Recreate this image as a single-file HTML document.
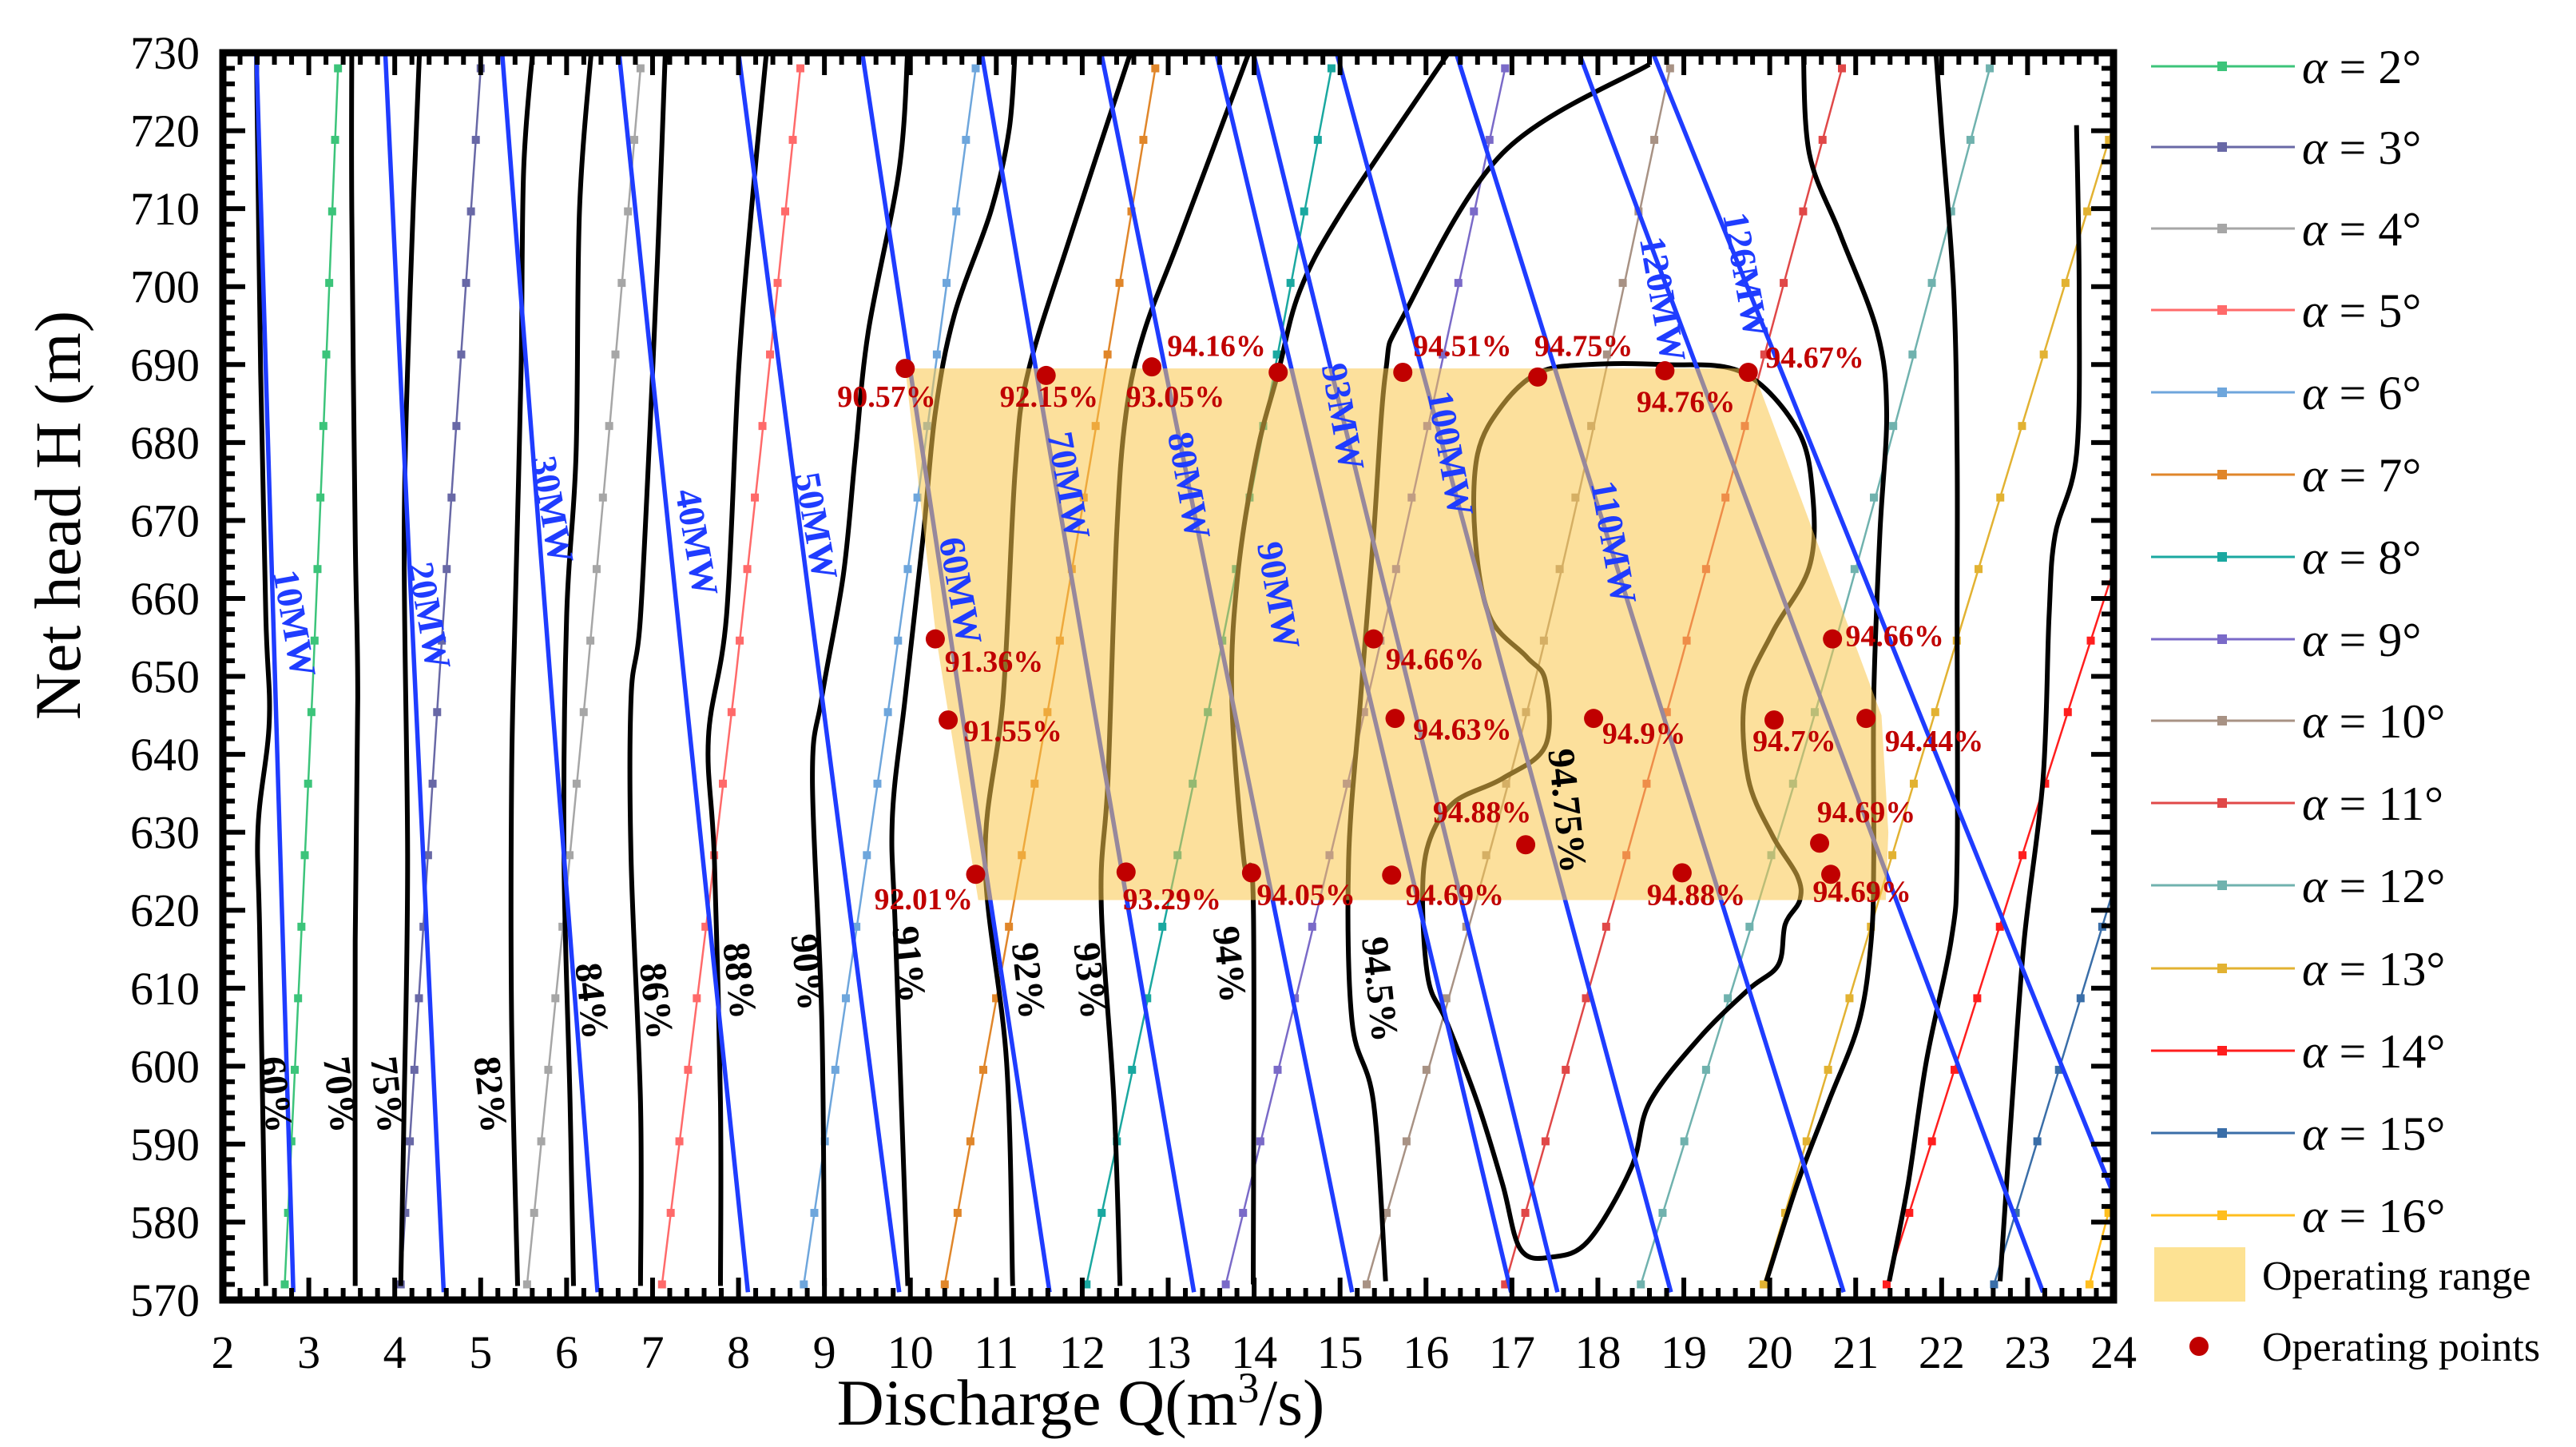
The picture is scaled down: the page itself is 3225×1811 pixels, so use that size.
<!DOCTYPE html>
<html><head><meta charset="utf-8"><style>
html,body{margin:0;padding:0;background:#fff;}
svg{display:block;}
text{font-family:"Liberation Serif",serif;}
</style></head><body>
<svg id="chart" width="3225" height="1811" viewBox="0 0 3225 1811" xmlns="http://www.w3.org/2000/svg">
<defs><clipPath id="plotClip"><rect x="279" y="66" width="2367" height="1561"/></clipPath></defs>
<g id="under" clip-path="url(#plotClip)"></g>
<g id="over"></g>
</svg>
<script>
// ---- axis data ----
const xTicks = [2,3,4,5,6,7,8,9,10,11,12,13,14,15,16,17,18,19,20,21,22,23,24];
const yTicks = [570,580,590,600,610,620,630,640,650,660,670,680,690,700,710,720,730];
// ---- guide vane opening (alpha) lines: Q at H = alphaH ----
const alphaH = [572, 650, 728];
const alphaNames = ['α = 2°','α = 3°','α = 4°','α = 5°','α = 6°','α = 7°','α = 8°','α = 9°','α = 10°','α = 11°','α = 12°','α = 13°','α = 14°','α = 15°','α = 16°'];
const alphaQ2 = [2.72,3.05,3.34];
const alphaQ3 = [4.07,4.52,5.0];
const alphaQ4 = [5.54,6.24,6.86];
const alphaQ5 = [7.11,7.97,8.72];
const alphaQ6 = [8.76,9.8,10.76];
const alphaQ7 = [10.4,11.67,12.85];
const alphaQ8 = [12.05,13.55,14.9];
const alphaQ9 = [13.67,15.38,16.92];
const alphaQ10 = [15.31,17.28,18.84];
const alphaQ11 = [16.92,18.92,20.84];
const alphaQ12 = [18.5,20.65,22.56];
const alphaQ13 = [19.93,22.05,24.2];
const alphaQ14 = [21.36,23.6,25.9];
const alphaQ15 = [22.61,24.75,26.9];
const alphaQ16 = [23.72,25.6,27.5];
const alphaSeries = [alphaQ2,alphaQ3,alphaQ4,alphaQ5,alphaQ6,alphaQ7,alphaQ8,alphaQ9,alphaQ10,alphaQ11,alphaQ12,alphaQ13,alphaQ14,alphaQ15,alphaQ16];
const alphaColors = ['#3cc47a','#6868a6','#a6a6a6','#ff6a6a','#6ea6dc','#e0862a','#1aa8a0','#7a6ac8','#a89284','#e04848','#70b2ae','#e2b232','#ff1e1e','#3a6ea8','#ffbe1e'];
// ---- power (output) lines: Q at H=730 and H=571 ----
const mwLabels = ['10MW','20MW','30MW','40MW','50MW','60MW','70MW','80MW','90MW','93MW','100MW','110MW','120MW','126MW'];
const mwTopQ = [2.39,3.89,5.25,6.61,8.0,9.44,10.83,12.22,13.56,13.99,14.96,16.35,17.78,18.64];
const mwBotQ = [2.82,4.57,6.36,8.11,9.87,11.62,13.3,15.14,16.99,17.53,18.85,20.86,23.18,24.46];
const mwLabelQ = [2.79,4.36,5.79,7.47,8.86,10.54,11.8,13.2,14.24,14.99,16.24,18.14,18.71,19.68];
const mwLabelH = [656.7,657.7,671.3,667.1,669.2,660.9,674.4,674.4,660.3,683.2,678.5,667.1,698.3,701.4];
// ---- efficiency contours [Q,H] ----
const c60 = [[2.39,730.6],[2.44,689],[2.5,657.7],[2.54,644.2],[2.41,630.7],[2.43,616.1],[2.5,571.8]];
const c70 = [[3.5,730.6],[3.5,709.8],[3.54,668.1],[3.57,647.3],[3.54,616.1],[3.54,571.8]];
const c75 = [[4.29,730.6],[4.18,699.4],[4.11,668.1],[4.15,626.5],[4.11,595.3],[4.07,571.8]];
const c82 = [[5.61,730.6],[5.5,715],[5.47,689],[5.4,657.7],[5.36,636.9],[5.36,605.7],[5.43,571.8]];
const c84 = [[6.29,730.6],[6.15,709.8],[6.11,678.5],[6.0,657.7],[5.97,626.5],[6.04,595.3],[6.08,571.8]];
const c86 = [[7.15,730.6],[7.08,709.8],[7.0,689],[6.86,657.7],[6.75,647.3],[6.75,626.5],[6.86,595.3],[6.86,571.8]];
const c88 = [[8.33,730.6],[8.15,709.8],[8.0,689],[7.86,657.7],[7.65,642.1],[7.72,626.5],[7.79,595.3],[7.79,571.8]];
const c90 = [[9.97,730.6],[9.87,715],[9.51,694.2],[9.36,678.5],[9.22,663],[8.97,647.3],[8.86,636.9],[8.97,605.7],[9.0,571.8]];
const c91 = [[11.22,730.6],[11.15,720.2],[10.94,709.8],[10.51,696.3],[10.29,683.8],[10.15,668.1],[9.94,647.3],[9.79,631.7],[9.83,616.1],[9.97,571.8]];
const c92 = [[12.58,730.6],[11.87,706.7],[11.37,689],[11.22,676.5],[11.08,647.3],[10.87,626.5],[11.12,600.5],[11.19,571.8]];
const c93 = [[13.96,730.6],[13.15,706.7],[12.72,694.2],[12.51,683.8],[12.4,668.1],[12.3,636.9],[12.22,621.3],[12.37,595.3],[12.44,571.8]];
const c94 = [[16.3,730.6],[15.03,709.8],[14.53,699.4],[14.28,689],[14.03,678.5],[13.81,663],[13.74,647.3],[13.88,626.5],[13.99,621.3],[13.99,572]];
const c945 = [[18.6,728.5],[16.89,717.1],[15.74,696.3],[15.53,689],[15.39,668.1],[15.24,647.3],[15.1,626.5],[15.14,605.7],[15.39,595.3],[15.53,572.4]];
const c9475 = [[17.32,689],[17.89,690],[18.75,690],[19.68,689],[20.32,681.7],[20.5,673.3],[20.46,664],[20.03,655.6],[19.71,647.3],[19.75,636.9],[20.03,629.6],[20.32,624.4],[20.35,621.3],[20.18,618.2],[20.1,613],[19.75,609.8],[19.18,603.6],[18.6,595.3],[18.39,587],[17.89,577.6],[17.46,575.5],[17.1,576.5],[16.89,584.9],[16.6,595.3],[16.24,605.7],[16.03,610.9],[15.96,621.3],[16.03,628.6],[16.32,633.8],[16.89,636.9],[17.39,641.1],[17.39,649.4],[17.17,652.5],[16.74,657.7],[16.57,668.1],[16.6,678.5],[16.89,684.8]];
const cR1 = [[20.39,730.6],[20.46,717.1],[20.82,706.7],[21.25,694.2],[21.36,683.8],[21.28,668.1],[21.21,647.3],[21.21,626.5],[21.18,616.1],[21.04,605.7],[20.68,595.3],[20.32,584.9],[19.96,572.4]];
const cR2 = [[21.93,730.6],[22.0,720.2],[22.14,699.4],[22.18,678.5],[22.18,657.7],[22.18,626.5],[22.11,616.1],[21.82,600.5],[21.61,584.9],[21.39,572.4]];
const cR3 = [[23.57,720.7],[23.6,699.4],[23.57,678.5],[23.32,668.1],[23.25,657.7],[23.18,636.9],[22.96,616.1],[22.82,595.3],[22.68,572.4]];
const contourLines = [c60,c70,c75,c82,c84,c86,c88,c90,c91,c92,c93,c94,c945,cR1,cR2,cR3];
const contourLabels = ['60%','70%','75%','82%','84%','86%','88%','90%','91%','92%','93%','94%','94.5%','94.75%'];
const contourLabelQ = [2.57,3.32,3.87,5.07,6.25,7.0,7.97,8.76,9.94,11.33,12.05,13.67,15.42,17.6];
const contourLabelH = [596.3,596.3,596.3,596.3,608.3,608.3,610.9,612,613,610.9,610.9,613,609.8,632.7];
// ---- operating range ----
const rangeQ = [9.94,19.8,21.3,21.38,21.35,10.79,10.3];
const rangeH = [689.5,689.5,645,630,621.3,621.3,655];
// ---- operating points ----
const ptQ = [9.94,11.58,12.81,10.29,10.44,10.76,12.51,14.28,15.73,17.3,18.78,19.75,15.39,15.64,17.95,20.05,21.12,20.73,17.16,20.58,13.97,15.6,18.98,20.71];
const ptH = [689.5,688.6,689.7,654.8,644.4,624.6,624.9,689,689,688.4,689.2,689,654.8,644.6,644.6,644.4,644.6,654.8,628.4,628.6,624.8,624.5,624.8,624.6];
const ptLabel = ['90.57%','92.15%','93.05%','91.36%','91.55%','92.01%','93.29%','94.16%','94.51%','94.75%','94.76%','94.67%','94.66%','94.63%','94.9%','94.7%','94.44%','94.66%','94.88%','94.69%','94.05%','94.69%','94.88%','94.69%'];
const ptLabelQ = [9.15,11.04,12.51,10.4,10.62,9.58,12.47,12.99,15.85,17.26,18.45,19.95,15.53,15.85,18.05,19.8,21.34,20.88,16.08,20.55,14.03,15.76,18.57,20.5];
const ptLabelH = [685.5,685.5,685.5,651.5,642.6,621,621,692,692,692,684.8,690.5,651.8,642.8,642.3,641.3,641.3,654.8,632.2,632.2,621.6,621.6,621.6,622];

// ---- scales ----
const PX0=279, PX1=2646, PY0=66, PY1=1627;
function X(q){return PX0+(q-2)*(PX1-PX0)/22;}
function Y(h){return PY0+(730-h)*(PY1-PY0)/160;}
const NS='http://www.w3.org/2000/svg';
const under=document.getElementById('under');
const over=document.getElementById('over');
function mk(tag,attrs,parent){const e=document.createElementNS(NS,tag);for(const k in attrs)e.setAttribute(k,attrs[k]);parent.appendChild(e);return e;}
function smooth(pts,closed){
  const n=pts.length;let d='M'+pts[0][0].toFixed(1)+','+pts[0][1].toFixed(1);
  const get=i=>closed?pts[(i+n)%n]:pts[Math.max(0,Math.min(n-1,i))];
  const segs=closed?n:n-1;
  for(let i=0;i<segs;i++){
    const p0=get(i-1),p1=get(i),p2=get(i+1),p3=get(i+2);
    const c1=[p1[0]+(p2[0]-p0[0])/6,p1[1]+(p2[1]-p0[1])/6];
    const c2=[p2[0]-(p3[0]-p1[0])/6,p2[1]-(p3[1]-p1[1])/6];
    d+=' C'+c1[0].toFixed(1)+','+c1[1].toFixed(1)+' '+c2[0].toFixed(1)+','+c2[1].toFixed(1)+' '+p2[0].toFixed(1)+','+p2[1].toFixed(1);
  }
  return d+(closed?' Z':'');
}
function interp(arrH,arrQ,h){
  for(let i=0;i<arrH.length-1;i++){if(h<=arrH[i+1]||i===arrH.length-2){const t=(h-arrH[i])/(arrH[i+1]-arrH[i]);return arrQ[i]+t*(arrQ[i+1]-arrQ[i]);}}
}

// alpha lines
alphaSeries.forEach((s,i)=>{
  const pts=alphaH.map((h,j)=>[X(s[j]),Y(h)]);
  const p=mk('path',{d:smooth(pts,false),fill:'none',stroke:alphaColors[i],'stroke-width':2.5},under);
  
  
  for(let k=0;k<18;k++){
    const h=alphaH[0]+k*(alphaH[2]-alphaH[0])/17;
    const q=interp(alphaH,s,h);
    const r=mk('rect',{x:X(q)-5,y:Y(h)-5,width:10,height:10,fill:alphaColors[i]},under);
    
    
  }
});
// contours
contourLines.forEach((c,i)=>{
  const pts=c.map(p=>[X(p[0]),Y(p[1])]);
  const p=mk('path',{d:smooth(pts,false),fill:'none',stroke:'#000','stroke-width':6},under);
  
  
});
{
  const pts=c9475.map(p=>[X(p[0]),Y(p[1])]);
  const p=mk('path',{d:smooth(pts,true),fill:'none',stroke:'#000','stroke-width':6},under);
  
  
}
// power lines
mwTopQ.forEach((q,i)=>{
  const l=mk('line',{x1:X(q),y1:Y(730),x2:X(mwBotQ[i]),y2:Y(571),stroke:'#1f3cff','stroke-width':5.5},under);
  
  
});
// operating range shading
{
  const d='M'+rangeQ.map((q,i)=>X(q).toFixed(1)+','+Y(rangeH[i]).toFixed(1)).join(' L')+' Z';
  const p=mk('path',{d:d,fill:'#f9c64a','fill-opacity':0.55,stroke:'none'},under);
  
  
}
// power labels
mwLabels.forEach((t,i)=>{
  const x=X(mwLabelQ[i]),y=Y(mwLabelH[i]);
  const e=mk('text',{x:0,y:0,transform:'translate('+x+','+y+') rotate(80)','text-anchor':'middle','dominant-baseline':'middle','font-size':46,'font-weight':'bold',fill:'#1f3cff'},over);
  e.textContent=t;
  
  
});
// contour labels
contourLabels.forEach((t,i)=>{
  const x=X(contourLabelQ[i]),y=Y(contourLabelH[i]);
  const e=mk('text',{x:0,y:0,transform:'translate('+x+','+y+') rotate(84)','text-anchor':'middle','dominant-baseline':'middle','font-size':48,'font-weight':'bold',fill:'#000'},over);
  e.textContent=t;
  
  
});
// operating points
ptQ.forEach((q,i)=>{
  const c=mk('circle',{cx:X(q),cy:Y(ptH[i]),r:12,fill:'#c00000'},over);
  
  
  const t=mk('text',{x:X(ptLabelQ[i]),y:Y(ptLabelH[i]),'dominant-baseline':'middle','font-size':38,'font-weight':'bold',fill:'#c00000'},over);
  t.textContent=ptLabel[i];
  
  
});
// ticks
for(let q=2;q<=24.001;q+=0.2){
  const major=Math.abs(q-Math.round(q))<1e-6;const L=major?28:15;const x=X(q);
  const a=mk('line',{x1:x,y1:PY1,x2:x,y2:PY1-L,stroke:'#000','stroke-width':6},over);
  
  
  const b=mk('line',{x1:x,y1:PY0,x2:x,y2:PY0+L,stroke:'#000','stroke-width':6},over);
  
  
}
for(let h=570;h<=730.001;h+=2){
  const major=(Math.round(h)%10)===0;const L=major?28:15;const y=Y(h);
  const a=mk('line',{x1:PX0,y1:y,x2:PX0+L,y2:y,stroke:'#000','stroke-width':6},over);
  
  
  const b=mk('line',{x1:PX1,y1:y,x2:PX1-L,y2:y,stroke:'#000','stroke-width':6},over);
  
  
}
{
  const f=mk('rect',{x:PX0,y:PY0,width:PX1-PX0,height:PY1-PY0,fill:'none',stroke:'#000','stroke-width':9},over);
  
  
}
xTicks.forEach(q=>{
  const t=mk('text',{x:X(q),y:1712,'text-anchor':'middle','font-size':58,fill:'#000'},over);
  t.textContent=q;
  
  
});
yTicks.forEach(h=>{
  const t=mk('text',{x:250,y:Y(h)+20,'text-anchor':'end','font-size':58,fill:'#000'},over);
  t.textContent=h;
  
  
});
// legend
const legY=[83,184,286,388,491,594,697,800,902,1005,1108,1212,1315,1418,1521];
alphaNames.forEach((n,i)=>{
  const y=legY[i];
  const l=mk('line',{x1:2693,y1:y,x2:2873,y2:y,stroke:alphaColors[i],'stroke-width':3},over);
  
  
  const r=mk('rect',{x:2776,y:y-6,width:12,height:12,fill:alphaColors[i]},over);
  
  
  const t=mk('text',{x:2882,y:y+21,'font-size':60,fill:'#000'},over);
  const ta=document.createElementNS(NS,'tspan');ta.setAttribute('font-style','italic');ta.textContent='α';t.appendChild(ta);
  const tb=document.createElementNS(NS,'tspan');tb.textContent=n.slice(1);t.appendChild(tb);
  
  
});
</script>
<svg style="position:absolute;left:0;top:0" width="3225" height="1811" viewBox="0 0 3225 1811" xmlns="http://www.w3.org/2000/svg">
<rect x="2697" y="1561" width="114" height="68" fill="#fde293"/>
<text x="2832" y="1614" font-size="52" font-family="Liberation Serif, serif">Operating range</text>
<circle cx="2753" cy="1685" r="12" fill="#c00000"/>
<text x="2832" y="1703" font-size="52" font-family="Liberation Serif, serif">Operating points</text>
<text x="0" y="0" transform="translate(100,645) rotate(-90)" text-anchor="middle" font-size="82" font-family="Liberation Serif, serif">Net head H (m)</text>
<text x="1353" y="1783" text-anchor="middle" font-size="82" font-family="Liberation Serif, serif">Discharge Q(m<tspan dy="-28" font-size="54">3</tspan><tspan dy="28">/s)</tspan></text>
</svg>
</body></html>
